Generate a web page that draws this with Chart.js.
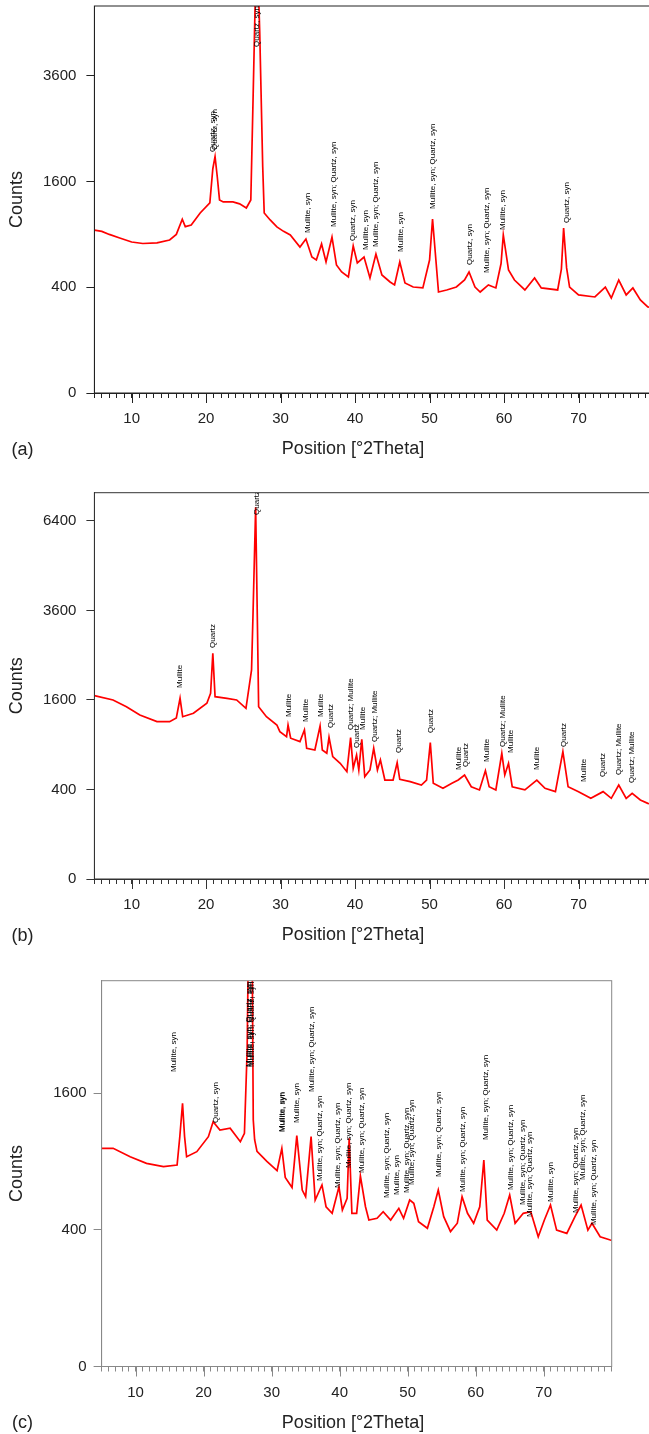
<!DOCTYPE html>
<html>
<head>
<meta charset="utf-8">
<script src="https://cdn.jsdelivr.net/npm/chart.js@4.4.0/dist/chart.umd.min.js"></script>
<style>
    html, body { margin: 0; padding: 0; background: #fff; overflow: hidden; }
    #page { position: relative; width: 649px; height: 1434px; overflow: hidden; background: #fff; }
    #page canvas { position: absolute; left: 0; }
</style>
</head>
<body>
<div id="page">
    <canvas id="chartA" width="660" height="470" style="top:0px"></canvas>
    <canvas id="chartB" width="660" height="480" style="top:470px"></canvas>
    <canvas id="chartC" width="649" height="484" style="top:950px"></canvas>
</div>
<script>
// ---- shared axis data ----
const xMajorTicks = [10, 20, 30, 40, 50, 60, 70];
const xMinorTicks = [];
for (let t = 5; t <= 80; t++) xMinorTicks.push(t);

const M = 'Mullite, syn';
const Q = 'Quartz, syn';
const MQ = 'Mullite, syn; Quartz, syn';

// ---- panel (a) ----
const thetaA = [
    5.0, 6.0, 7.0, 8.4, 10.0, 11.5, 13.4, 15.1, 16.0, 16.8,
    17.2, 18.0, 19.2, 20.5, 20.9, 21.2, 21.5, 21.8, 22.3, 23.6,
    24.5, 25.4, 26.0, 26.3, 26.6, 26.8, 27.0, 27.2, 27.6, 27.8,
    28.6, 29.5, 30.4, 31.3, 32.6, 33.4, 34.2, 34.8, 35.5, 36.1,
    36.9, 37.5, 38.2, 39.1, 39.75, 40.3, 41.2, 42.0, 42.8, 43.6,
    44.7, 45.3, 46.0, 46.7, 47.8, 49.1, 50.0, 50.4, 50.85, 51.2,
    52.3, 53.6, 54.7, 55.3, 56.1, 56.8, 57.9, 58.9, 59.6, 59.9,
    60.6, 61.4, 62.8, 64.1, 65.0, 67.2, 67.7, 68.0, 68.4, 68.8,
    70.0, 72.2, 73.6, 74.4, 75.4, 76.4, 77.3, 78.3, 79.3, 80.0
];
const countsA = [
    950, 935, 900, 860, 816, 800, 806, 838, 900, 1080,
    990, 1010, 1160, 1293, 1800, 2000, 1670, 1334, 1306, 1306,
    1280, 1225, 1334, 3074, 5600, 6000, 6000, 4640, 1829, 1160,
    1072, 987, 935, 894, 763, 849, 662, 633, 795, 614,
    871, 587, 524, 482, 774, 605, 662, 474, 692, 499,
    441, 418, 614, 433, 402, 395, 633, 1084, 633, 365,
    380, 402, 457, 524, 402, 365, 418, 395, 600, 894,
    542, 457, 380, 474, 395, 380, 550, 975, 560, 402,
    344, 330, 402, 323, 457, 344, 395, 310, 265, 260
];
const yTicksA = [0, 400, 1600, 3600];
const yMaxA = 5360;
const peakPosA = [20.95, 21.15, 26.85, 33.7, 37.1, 39.75, 41.4, 42.8, 46.1, 50.5, 55.4, 57.75, 59.85, 68.4];
const peakAtA = [2080, 2114, 4286, 917, 987, 827, 732, 763, 712, 1212, 587, 516, 951, 1035];
const peakTextA = [Q, Q, Q, M, MQ, Q, M, MQ, M, MQ, Q, MQ, M, Q];

// ---- panel (b) ----
const thetaB = [
    5.0, 7.5, 9.3, 11.1, 13.4, 15.1, 16.0, 16.5, 16.85, 18.3,
    20.1, 20.6, 20.9, 21.2, 22.8, 24.1, 25.35, 26.1, 26.3, 26.65,
    26.9, 27.05, 28.1, 29.5, 29.9, 30.8, 31.0, 31.35, 32.6, 33.2,
    33.5, 34.6, 35.3, 35.6, 36.2, 36.5, 37.0, 38.0, 38.9, 39.4,
    39.75, 40.2, 40.5, 40.9, 41.3, 42.0, 42.5, 43.0, 43.4, 44.0,
    45.1, 45.65, 46.0, 47.4, 48.9, 49.6, 50.1, 50.5, 51.8, 53.0,
    53.85, 54.7, 55.6, 56.7, 57.5, 58.0, 58.9, 59.7, 60.1, 60.6,
    61.1, 62.8, 64.4, 65.5, 66.9, 67.9, 68.6, 70.0, 71.65, 73.3,
    74.4, 75.4, 76.4, 77.2, 78.3, 79.3, 80.0
];
const countsB = [
    1680, 1600, 1482, 1343, 1236, 1236, 1294, 1630, 1315, 1371,
    1542, 1720, 2544, 1660, 1630, 1600, 1455, 2181, 3533, 6900,
    3096, 1482, 1315, 1184, 1083, 1011, 1184, 990, 942, 1109,
    853, 831, 1169, 831, 789, 1003, 747, 668, 575, 997,
    612, 768, 593, 974, 523, 593, 853, 593, 707, 489,
    489, 675, 496, 473, 441, 489, 928, 457, 411, 457,
    489, 540, 425, 396, 586, 425, 396, 789, 540, 668,
    425, 396, 489, 411, 381, 809, 425, 381, 325, 381,
    325, 441, 325, 367, 312, 286, 280
];
const yTicksB = [0, 400, 1600, 3600, 6400];
const yMaxB = 7450;
const peakPosB = [16.49, 20.96, 26.78, 31.12, 33.4, 35.38, 36.72, 39.44, 40.29, 41.09, 42.66, 45.93,
    50.22, 53.94, 54.88, 57.66, 59.78, 60.88, 64.41, 68.03, 70.71, 73.31, 75.36, 77.19];
const peakAtB = [1822, 2665, 6616, 1310, 1231, 1310, 1139, 1109, 857, 1109, 937, 793,
    1065, 593, 626, 684, 870, 793, 593, 870, 470, 520, 540, 460];
const peakTextB = ['Mullite', 'Quartz', 'Quartz', 'Mullite', 'Mullite', 'Mullite', 'Quartz', 'Quartz; Mullite',
    'Quartz', 'Mullite', 'Quartz; Mullite', 'Quartz', 'Quartz', 'Mullite', 'Quartz', 'Mullite',
    'Quartz; Mullite', 'Mullite', 'Mullite', 'Quartz', 'Mullite', 'Quartz', 'Quartz; Mullite', 'Quartz; Mullite'];

// ---- panel (c) ----
const thetaC = [
    5.0, 6.7, 9.2, 11.6, 14.1, 16.1, 16.5, 16.9, 17.2, 17.5,
    19.0, 20.7, 21.4, 22.4, 23.9, 25.4, 26.0, 26.4, 26.6, 27.0,
    27.15, 27.3, 27.5, 27.85, 29.3, 30.8, 31.5, 32.0, 33.0, 33.7,
    34.5, 35.0, 35.8, 36.4, 37.4, 38.0, 38.9, 39.9, 40.4, 41.1,
    41.4, 41.8, 42.5, 43.05, 43.8, 44.3, 45.5, 46.4, 47.5, 48.7,
    49.4, 50.3, 50.9, 51.6, 52.9, 53.85, 54.5, 55.3, 56.3, 57.3,
    58.0, 58.8, 59.7, 60.6, 61.2, 61.7, 63.1, 64.2, 65.0, 65.8,
    67.0, 68.1, 69.2, 70.1, 71.0, 71.9, 73.4, 74.6, 75.5, 76.5,
    77.1, 78.3, 79.8, 80.0
];
const countsC = [
    1018, 1018, 941, 883, 854, 868, 1130, 1482, 1130, 941,
    987, 1130, 1282, 1196, 1214, 1081, 1163, 2143, 4000, 4000,
    3500, 1300, 1100, 990, 900, 820, 1018, 765, 685, 1140,
    666, 617, 1130, 593, 705, 546, 502, 691, 524, 605,
    1114, 502, 502, 776, 546, 459, 470, 513, 459, 535,
    470, 593, 570, 449, 409, 546, 666, 480, 389, 439,
    617, 502, 439, 546, 912, 459, 398, 502, 629, 439,
    502, 513, 360, 459, 558, 398, 379, 480, 558, 398,
    439, 360, 342, 340
];
const yTicksC = [0, 400, 1600];
const yMaxC = 3184;
const peakPosC = [15.56, 21.85, 26.6, 26.85, 27.1, 31.5, 31.6, 33.63, 35.84, 37.12, 39.74, 41.33, 43.2, 46.93,
    48.46, 49.83, 50.64, 54.59, 58.18, 61.47, 65.15, 66.91, 67.95, 71.11, 74.79, 75.71, 77.37];
const peakAtC = [1855, 1268, 1919, 1919, 1919, 1176, 1176, 1268, 1612, 736, 682, 843, 801, 607,
    629, 644, 705, 768, 651, 1097, 666, 558, 478, 579, 504, 744, 428];
const peakTextC = [M, Q, MQ, MQ, MQ, M, M, M, MQ, MQ, MQ, MQ, MQ, MQ,
    M, MQ, MQ, MQ, MQ, MQ, MQ, MQ, MQ, M, MQ, MQ, MQ];

// Square-root count axis, like the diffractometer software uses
class SqrtScale extends Chart.LinearScale {
    static id = 'sqrt';
    static defaults = Chart.LinearScale.defaults;

    getPixelForValue(value) {
        const lo = Math.sqrt(this.min), hi = Math.sqrt(this.max);
        return this.getPixelForDecimal((Math.sqrt(Math.max(value, 0)) - lo) / (hi - lo));
    }

    getValueForPixel(pixel) {
        const lo = Math.sqrt(this.min), hi = Math.sqrt(this.max);
        const s = lo + this.getDecimalForPixel(pixel) * (hi - lo);
        return s * s;
    }
}
Chart.register(SqrtScale);

const FONT = '"Liberation Sans", Arial, Helvetica, sans-serif';

// Box around the plot area
const framePlugin = {
    id: 'frame',
    afterDraw(chart, args, opts) {
        const { ctx, chartArea: a } = chart;
        ctx.save();
        ctx.strokeStyle = opts.color;
        ctx.lineWidth = 1;
        ctx.strokeRect(a.left, a.top, a.right - a.left, a.bottom - a.top);
        ctx.restore();
    }
};

// Longer tick marks at every 10 degrees
const majorTickPlugin = {
    id: 'majorTicks',
    afterDraw(chart, args, opts) {
        const { ctx, chartArea: a, scales } = chart;
        ctx.save();
        ctx.strokeStyle = opts.color;
        ctx.lineWidth = 1;
        xMajorTicks.forEach(v => {
            const x = Math.round(scales.x.getPixelForValue(v)) + 0.5;
            ctx.beginPath();
            ctx.moveTo(x, a.bottom);
            ctx.lineTo(x, a.bottom + 10);
            ctx.stroke();
        });
        ctx.restore();
    }
};

// Vertical phase labels above the peaks
const peakLabelPlugin = {
    id: 'peakLabels',
    afterDatasetsDraw(chart, args, opts) {
        const { ctx, chartArea: a, scales } = chart;
        ctx.save();
        ctx.beginPath();
        ctx.rect(a.left, a.top, a.right - a.left, a.bottom - a.top);
        ctx.clip();
        ctx.fillStyle = '#000';
        ctx.font = '8px ' + FONT;
        ctx.textAlign = 'left';
        ctx.textBaseline = 'middle';
        opts.pos.forEach((p, i) => {
            const x = scales.x.getPixelForValue(p);
            const y = scales.y.getPixelForValue(opts.at[i]);
            ctx.save();
            ctx.translate(x, y);
            ctx.rotate(-Math.PI / 2);
            ctx.fillText(opts.text[i], 0, 0);
            ctx.restore();
        });
        ctx.restore();
    }
};

// x axis title and panel letter
const captionPlugin = {
    id: 'caption',
    afterDraw(chart, args, opts) {
        const { ctx, chartArea: a } = chart;
        ctx.save();
        ctx.fillStyle = '#222';
        ctx.font = '18px ' + FONT;
        ctx.textBaseline = 'middle';
        ctx.textAlign = 'center';
        ctx.fillText('Position [°2Theta]', 353, a.bottom + 56.5);
        ctx.fillText(opts.letter, 22.5, a.bottom + 57);
        ctx.restore();
    }
};

function buildPanel(id, cfg) {
    const canvas = document.getElementById(id);
    const W = canvas.width, H = canvas.height;
    return new Chart(canvas, {
        type: 'line',
        data: {
            datasets: [{
                data: cfg.theta.map((t, i) => ({ x: t, y: cfg.counts[i] })),
                borderColor: '#ff0000',
                borderWidth: 1.7,
                pointRadius: 0,
                tension: 0
            }]
        },
        options: {
            responsive: false,
            animation: false,
            events: [],
            layout: { padding: { top: cfg.box.top, right: W - cfg.box.right, bottom: 0, left: 0 } },
            plugins: {
                legend: { display: false },
                tooltip: { enabled: false },
                frame: { color: cfg.axisColor },
                majorTicks: { color: cfg.axisColor },
                peakLabels: { pos: cfg.peakPos, at: cfg.peakAt, text: cfg.peakText },
                caption: { letter: cfg.letter }
            },
            scales: {
                x: {
                    type: 'linear',
                    min: 5,
                    max: 80,
                    afterBuildTicks: s => { s.ticks = xMinorTicks.map(v => ({ value: v })); },
                    afterFit: s => {
                        s.height = H - cfg.box.bottom;
                        s.paddingLeft = 0;
                        s.paddingRight = 0;
                    },
                    ticks: {
                        autoSkip: false,
                        maxRotation: 0,
                        minRotation: 0,
                        padding: 12,
                        color: '#222',
                        font: { family: FONT, size: 15 },
                        callback: v => xMajorTicks.includes(v) ? String(v) : ''
                    },
                    grid: { drawOnChartArea: false, tickLength: 5, color: cfg.axisColor },
                    border: { color: cfg.axisColor }
                },
                y: {
                    type: 'sqrt',
                    min: 0,
                    max: cfg.yMax,
                    afterBuildTicks: s => { s.ticks = cfg.yTicks.map(v => ({ value: v })); },
                    afterFit: s => {
                        s.width = cfg.box.left;
                        s.paddingTop = 0;
                        s.paddingBottom = 0;
                    },
                    ticks: {
                        padding: cfg.yPad,
                        color: '#222',
                        font: { family: FONT, size: 15 },
                        callback: v => String(v)
                    },
                    grid: { drawOnChartArea: false, tickLength: 8, color: cfg.axisColor },
                    border: { color: cfg.axisColor },
                    title: {
                        display: true,
                        text: 'Counts',
                        color: '#222',
                        font: { family: FONT, size: 18 },
                        padding: { top: 6, bottom: 0 }
                    }
                }
            }
        },
        plugins: [framePlugin, majorTickPlugin, peakLabelPlugin, captionPlugin]
    });
}

buildPanel('chartA', {
    theta: thetaA, counts: countsA, yTicks: yTicksA, yMax: yMaxA,
    peakPos: peakPosA, peakAt: peakAtA, peakText: peakTextA,
    box: { left: 94.4, top: 6, right: 653, bottom: 393 },
    yPad: 10, axisColor: '#222', letter: '(a)'
});

buildPanel('chartB', {
    theta: thetaB, counts: countsB, yTicks: yTicksB, yMax: yMaxB,
    peakPos: peakPosB, peakAt: peakAtB, peakText: peakTextB,
    box: { left: 94.4, top: 22.7, right: 653, bottom: 409 },
    yPad: 10, axisColor: '#333', letter: '(b)'
});

buildPanel('chartC', {
    theta: thetaC, counts: countsC, yTicks: yTicksC, yMax: yMaxC,
    peakPos: peakPosC, peakAt: peakAtC, peakText: peakTextC,
    box: { left: 101.6, top: 30.7, right: 611.7, bottom: 416.5 },
    yPad: 7, axisColor: '#888', letter: '(c)'
});
</script>
</body>
</html>
